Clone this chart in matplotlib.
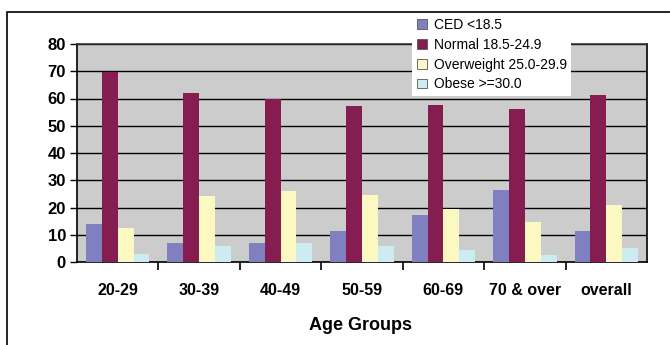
import numpy as np
import matplotlib.pyplot as plt
from matplotlib.patches import Rectangle, Patch

plt.rcParams['font.family'] = ['Liberation Sans', 'DejaVu Sans']

groups = ["20-29", "30-39", "40-49", "50-59", "60-69", "70 & over", "overall"]
ced = [13.8, 6.9, 7.0, 11.2, 17.2, 26.6, 11.2]
normal = [69.6, 62.1, 59.9, 57.3, 57.5, 56.3, 61.4]
overweight = [12.5, 24.3, 25.9, 24.7, 19.5, 14.5, 21.0]
obese = [2.9, 6.0, 6.9, 6.0, 4.5, 2.4, 5.0]

series = [
    ("CED <18.5", ced, "#8080c0"),
    ("Normal 18.5-24.9", normal, "#861d50"),
    ("Overweight 25.0-29.9", overweight, "#fbf8c2"),
    ("Obese >=30.0", obese, "#cdecf2"),
]

fig = plt.figure(figsize=(6.7, 3.45), dpi=100)
ax = fig.add_axes([77/670, 83/345, 570/670, 218/345])
ax.set_facecolor("#cccccc")

x = np.arange(len(groups))
w = 0.195
for k, (name, vals, col) in enumerate(series):
    ax.bar(x + (k - 1.5) * w, vals, w, color=col, edgecolor="none", zorder=3)

ax.set_xlim(-0.5, len(groups) - 0.5)
ax.set_ylim(0, 80)
ax.set_yticks(range(0, 81, 10))
ax.yaxis.grid(True, color="black", linewidth=1.0, zorder=1)
ax.set_axisbelow(True)
for tl in ax.get_yticklabels():
    tl.set_fontweight("bold")
ax.tick_params(axis="y", labelsize=12, length=5, width=1, pad=3)

ax.set_xticks(x)
ax.set_xticklabels(groups, fontsize=11.5, fontweight="bold")
ax.tick_params(axis="x", length=0, pad=15)
# group separator ticks below the axis
ax.set_xticks(np.arange(0.5, len(groups) - 0.5, 1.0), minor=True)
ax.tick_params(axis="x", which="minor", length=6, width=1.2, color="black")

for s in ax.spines.values():
    s.set_color("black")
    s.set_linewidth(1.2)
ax.spines["top"].set_color("#333333")

fig.text(361/670, 1 - 326/345, "Age Groups", ha="center", va="center",
         fontsize=13, fontweight="bold")

# outer frame of the chart
fig.patches.append(Rectangle((7/670, -0.05), 1.0, 1 - 12/345 + 0.05,
                             transform=fig.transFigure, fill=False,
                             edgecolor="black", linewidth=1.2))

handles = [Patch(facecolor=c, edgecolor="#555555", linewidth=0.6, label=n)
           for n, _, c in series]
leg = fig.legend(handles=handles, loc="upper left",
                 bbox_to_anchor=(412/670, 1 - 13/345), frameon=True,
                 fancybox=False, framealpha=1, edgecolor="white",
                 fontsize=10, handlelength=0.7, handleheight=0.7,
                 handletextpad=0.5, labelspacing=0.42, borderpad=0.35,
                 borderaxespad=0)
leg.get_frame().set_linewidth(0)

fig.savefig("out.png", dpi=100)
